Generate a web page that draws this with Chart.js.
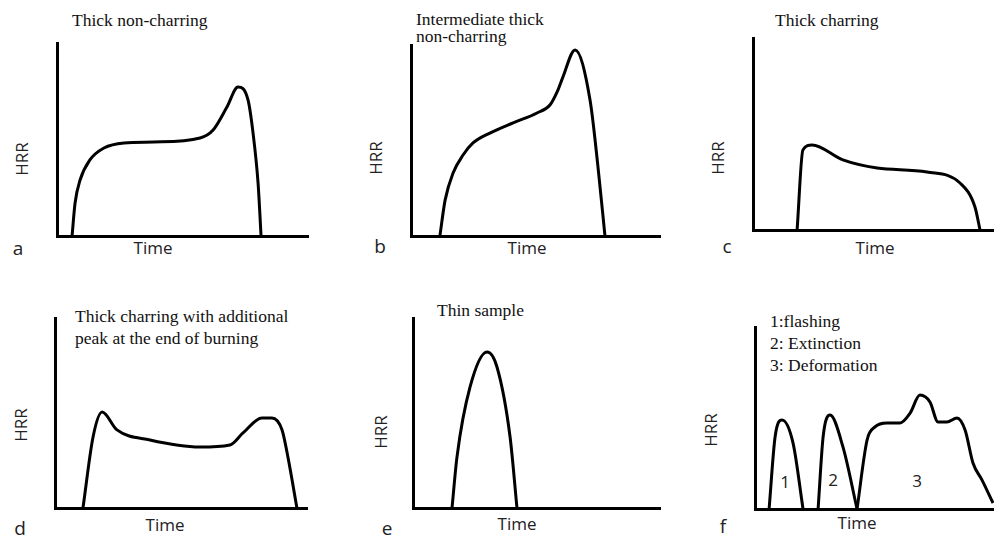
<!DOCTYPE html>
<html>
<head>
<meta charset="utf-8">
<script src="https://cdn.jsdelivr.net/npm/chart.js@4.4.1/dist/chart.umd.min.js"></script>
<style>
  html, body { margin: 0; padding: 0; background: #fff; overflow: hidden; }
  body { width: 994px; height: 540px; position: relative; }
  .box { position: absolute; }
  .serif { position: absolute; font-family: "Liberation Serif", serif; font-size: 17.5px; color: #111; white-space: nowrap; }
  .sans { position: absolute; font-family: "Open Sans", sans-serif; font-size: 17px; color: #222; white-space: nowrap; transform: translate(-50%, -50%); line-height: 1; }
  .letter { font-size: 19px; }
  .rot { transform: translate(-50%, -50%) rotate(-90deg); }
</style>
</head>
<body>

<!-- panel titles -->
<div class="serif" style="left:72px; top:11px; line-height:18px;">Thick non-charring</div>
<div class="serif" style="left:416px; top:11px; line-height:17px;">Intermediate thick<br>non-charring</div>
<div class="serif" style="left:775px; top:11px; line-height:18px;">Thick charring</div>
<div class="serif" style="left:75px; top:305px; line-height:22px;">Thick charring with additional<br>peak at the end of burning</div>
<div class="serif" style="left:437px; top:301px; line-height:18px;">Thin sample</div>
<div class="serif" style="left:770px; top:310px; line-height:22px;">1:flashing<br>2: Extinction<br>3: Deformation</div>

<!-- axis labels and panel letters -->
<div class="sans rot" style="left:21px; top:159px;">HRR</div>
<div class="sans rot" style="left:375px; top:158px;">HRR</div>
<div class="sans rot" style="left:717px; top:158px;">HRR</div>
<div class="sans rot" style="left:20px; top:425px;">HRR</div>
<div class="sans rot" style="left:380px; top:432px;">HRR</div>
<div class="sans rot" style="left:710px; top:430px;">HRR</div>

<div class="sans" style="left:153px; top:247px;">Time</div>
<div class="sans" style="left:527px; top:247px;">Time</div>
<div class="sans" style="left:875px; top:247px;">Time</div>
<div class="sans" style="left:165px; top:524px;">Time</div>
<div class="sans" style="left:517px; top:523px;">Time</div>
<div class="sans" style="left:857px; top:522px;">Time</div>

<div class="sans letter" style="left:18px; top:248px;">a</div>
<div class="sans letter" style="left:380px; top:246px;">b</div>
<div class="sans letter" style="left:727px; top:246px;">c</div>
<div class="sans letter" style="left:20px; top:528px;">d</div>
<div class="sans letter" style="left:387px; top:528px;">e</div>
<div class="sans letter" style="left:723px; top:526px;">f</div>

<div class="sans" style="left:785px; top:481px;">1</div>
<div class="sans" style="left:833px; top:479px;">2</div>
<div class="sans" style="left:917px; top:480px;">3</div>

<div class="box" id="boxA"><canvas id="chartA"></canvas></div>
<div class="box" id="boxB"><canvas id="chartB"></canvas></div>
<div class="box" id="boxC"><canvas id="chartC"></canvas></div>
<div class="box" id="boxD"><canvas id="chartD"></canvas></div>
<div class="box" id="boxE"><canvas id="chartE"></canvas></div>
<div class="box" id="boxF"><canvas id="chartF"></canvas></div>

<script>
// Curves (time and HRR in % of axis length)

// a: thick non-charring
const timeA = [6, 7.2, 9.2, 13.1, 18.7, 26.7, 38.6, 57, 62.2, 67.7, 72.1, 76.1, 78.1, 80.1, 81.3];
const hrrA  = [0, 17.1, 29, 39.4, 45.6, 48.2, 48.7, 50.8, 54.9, 66.8, 77.2, 70.5, 53.4, 27.5, 0];

// b: intermediate thick non-charring
const timeB = [11.6, 13.7, 16.9, 20.9, 24.9, 31.7, 41, 50.6, 55.8, 59, 61, 65.9, 71.9, 75.1, 77.9];
const hrrB  = [0, 18.8, 33, 42.4, 48.7, 53.9, 59.2, 64.4, 68.6, 76.4, 83.2, 97.4, 71.2, 36.1, 0];

// c: thick charring
const timeC = [18.3, 20.7, 24.5, 37.3, 51.5, 72.2, 85.9, 92.1, 94.2];
const hrrC  = [0, 41.7, 44.3, 36.5, 32.3, 30.2, 24.5, 12, 0];

// d: thick charring with end peak
const timeD = [11.1, 15.1, 18.7, 24.6, 37.7, 57.5, 69.4, 74.6, 82.1, 86.1, 90.1, 92.5, 96];
const hrrD  = [0, 37.4, 50.5, 41.1, 35.8, 32.1, 33.2, 39.5, 47.4, 47.4, 41.1, 26.3, 0];

// e: thin sample
const timeE = [15.8, 17.8, 23.1, 30, 34, 39.3, 42.1];
const hrrE  = [0, 26.8, 63.7, 82.1, 74.2, 37.4, 0];

// f: flashing, extinction, deformation
const timeF1 = [5.9, 8.4, 11.3, 15.9, 20.1];
const hrrF1  = [0, 39.6, 48.9, 36.3, 0];
const timeF2 = [26.4, 28.5, 31.4, 36.8, 42.7];
const hrrF2  = [0, 39.6, 51.6, 34.1, 0];
const timeF3 = [42.7, 46.9, 50.2, 55.2, 60.7, 64.9, 69, 73.2, 76.6, 80.3, 84.5, 87.9, 91.2, 95, 99.6];
const hrrF3  = [0, 37.9, 45.1, 47.3, 47.3, 52.7, 62.6, 58.8, 47.8, 47.8, 50, 43.4, 25.3, 15.9, 3.3];

const PAD = 4;

function toPoints(xs, ys) {
  return xs.map((x, i) => ({ x: x, y: ys[i] }));
}

function curve(xs, ys) {
  return {
    data: toPoints(xs, ys),
    borderColor: '#000',
    borderWidth: 3,
    pointRadius: 0,
    fill: false,
    cubicInterpolationMode: 'monotone'
  };
}

// area = plot area in page pixels: left, top, right, bottom
function makeChart(id, area, datasets) {
  const box = document.getElementById('box' + id);
  box.style.left = (area[0] - PAD) + 'px';
  box.style.top = (area[1] - PAD) + 'px';
  box.style.width = (area[2] - area[0] + 2 * PAD) + 'px';
  box.style.height = (area[3] - area[1] + 2 * PAD) + 'px';

  const axis = {
    type: 'linear',
    min: 0,
    max: 100,
    ticks: { display: false },
    grid: { display: false, drawTicks: false },
    border: { display: true, color: '#000', width: 3 }
  };

  return new Chart(document.getElementById('chart' + id), {
    type: 'line',
    data: { datasets: datasets },
    options: {
      responsive: true,
      maintainAspectRatio: false,
      animation: false,
      layout: { padding: PAD },
      plugins: { legend: { display: false }, tooltip: { enabled: false } },
      scales: { x: axis, y: axis }
    }
  });
}

makeChart('A', [57, 43, 308, 236], [curve(timeA, hrrA)]);
makeChart('B', [411, 45, 660, 236], [curve(timeB, hrrB)]);
makeChart('C', [753, 38, 994, 230], [curve(timeC, hrrC)]);
makeChart('D', [55, 318, 307, 508], [curve(timeD, hrrD)]);
makeChart('E', [413, 318, 660, 508], [curve(timeE, hrrE)]);
makeChart('F', [755, 327, 994, 509], [curve(timeF1, hrrF1), curve(timeF2, hrrF2), curve(timeF3, hrrF3)]);
</script>
</body>
</html>
